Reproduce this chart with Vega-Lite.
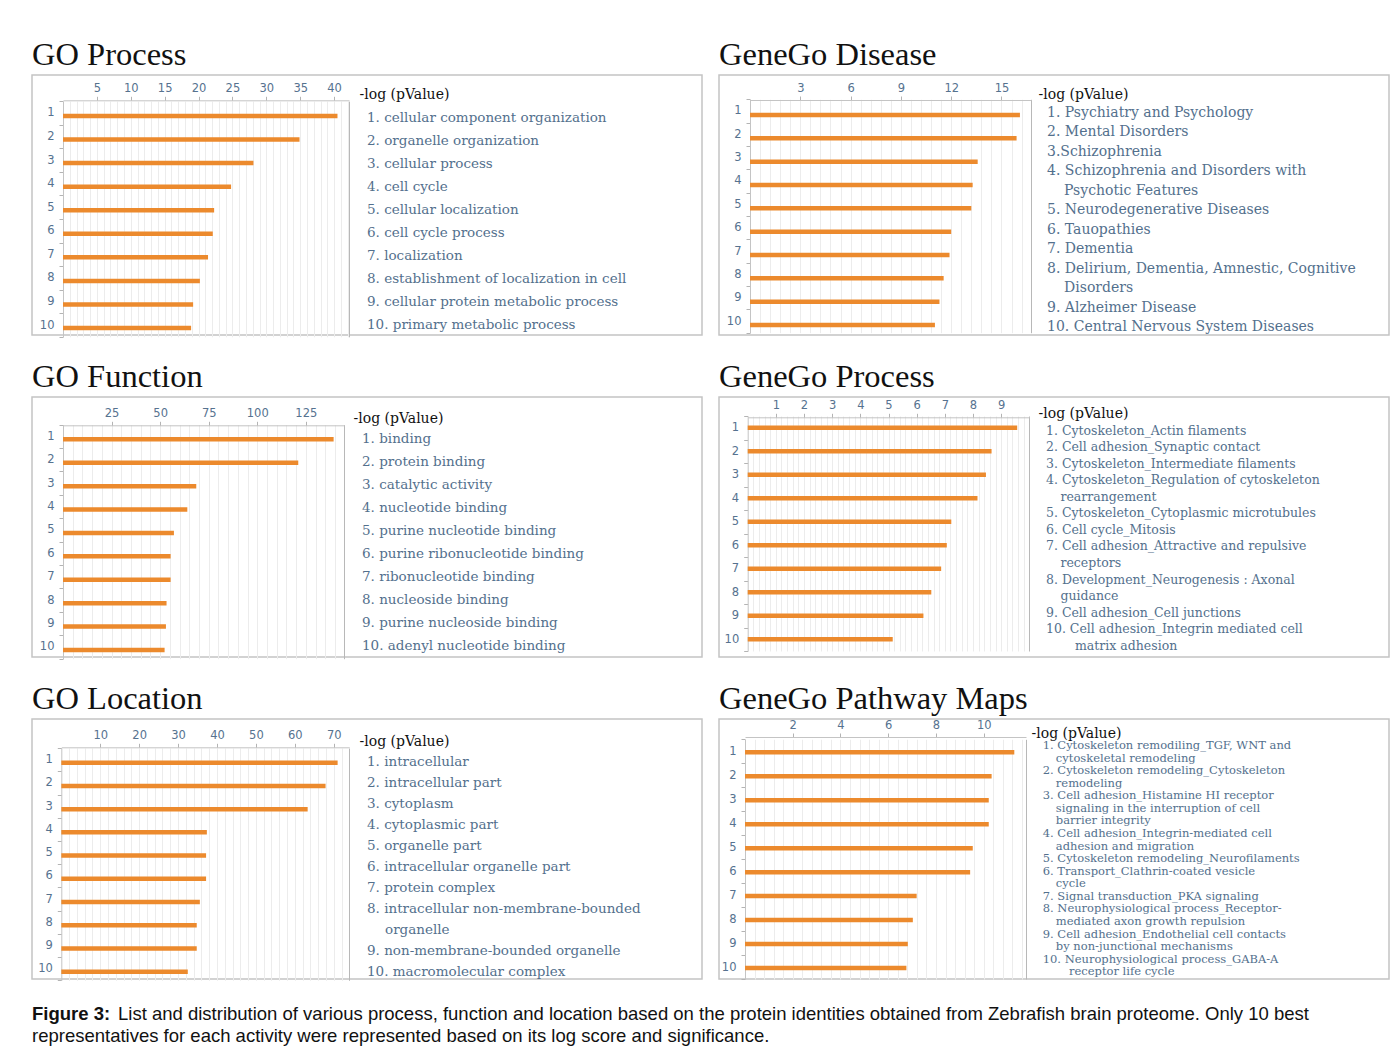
{
  "$schema": "https://vega.github.io/schema/vega-lite/v6.json",
  "background": "white",
  "padding": {"left": 31, "top": 37, "right": 5, "bottom": 5},
  "spacing": 21,
  "datasets": {
    "b1": [{"item":1,"value":40.5},{"item":2,"value":34.9},{"item":3,"value":28.1},{"item":4,"value":24.8},{"item":5,"value":22.3},{"item":6,"value":22.1},{"item":7,"value":21.4},{"item":8,"value":20.2},{"item":9,"value":19.2},{"item":10,"value":18.9}],
    "b2": [{"item":1,"value":16.1},{"item":2,"value":15.9},{"item":3,"value":13.58},{"item":4,"value":13.28},{"item":5,"value":13.2},{"item":6,"value":12.0},{"item":7,"value":11.9},{"item":8,"value":11.55},{"item":9,"value":11.3},{"item":10,"value":11.03}],
    "b3": [{"item":1,"value":139.3},{"item":2,"value":121.1},{"item":3,"value":68.6},{"item":4,"value":64.0},{"item":5,"value":57.1},{"item":6,"value":55.4},{"item":7,"value":55.4},{"item":8,"value":53.3},{"item":9,"value":53.0},{"item":10,"value":52.3}],
    "b4": [{"item":1,"value":9.57},{"item":2,"value":8.66},{"item":3,"value":8.46},{"item":4,"value":8.16},{"item":5,"value":7.23},{"item":6,"value":7.07},{"item":7,"value":6.87},{"item":8,"value":6.52},{"item":9,"value":6.24},{"item":10,"value":5.15}],
    "b5": [{"item":1,"value":71.0},{"item":2,"value":67.9},{"item":3,"value":63.3},{"item":4,"value":37.4},{"item":5,"value":37.2},{"item":6,"value":37.2},{"item":7,"value":35.6},{"item":8,"value":34.8},{"item":9,"value":34.8},{"item":10,"value":32.5}],
    "b6": [{"item":1,"value":11.28},{"item":2,"value":10.33},{"item":3,"value":10.21},{"item":4,"value":10.21},{"item":5,"value":9.54},{"item":6,"value":9.43},{"item":7,"value":7.19},{"item":8,"value":7.03},{"item":9,"value":6.82},{"item":10,"value":6.76}],
    "l1": [{"line":"1. cellular component organization","lvl":"item"},{"line":"2. organelle organization","lvl":"item"},{"line":"3. cellular process","lvl":"item"},{"line":"4. cell cycle","lvl":"item"},{"line":"5. cellular localization","lvl":"item"},{"line":"6. cell cycle process","lvl":"item"},{"line":"7. localization","lvl":"item"},{"line":"8. establishment of localization in cell","lvl":"item"},{"line":"9. cellular protein metabolic process","lvl":"item"},{"line":"10. primary metabolic process","lvl":"item"}],
    "l2": [{"line":"1. Psychiatry and Psychology","lvl":"item"},{"line":"2. Mental Disorders","lvl":"item"},{"line":"3.Schizophrenia","lvl":"item"},{"line":"4. Schizophrenia and Disorders with","lvl":"item"},{"line":"Psychotic Features","lvl":"cont"},{"line":"5. Neurodegenerative Diseases","lvl":"item"},{"line":"6. Tauopathies","lvl":"item"},{"line":"7. Dementia","lvl":"item"},{"line":"8. Delirium, Dementia, Amnestic, Cognitive","lvl":"item"},{"line":"Disorders","lvl":"cont"},{"line":"9. Alzheimer Disease","lvl":"item"},{"line":"10. Central Nervous System Diseases","lvl":"item"}],
    "l3": [{"line":"1. binding","lvl":"item"},{"line":"2. protein binding","lvl":"item"},{"line":"3. catalytic activity","lvl":"item"},{"line":"4. nucleotide binding","lvl":"item"},{"line":"5. purine nucleotide binding","lvl":"item"},{"line":"6. purine ribonucleotide binding","lvl":"item"},{"line":"7. ribonucleotide binding","lvl":"item"},{"line":"8. nucleoside binding","lvl":"item"},{"line":"9. purine nucleoside binding","lvl":"item"},{"line":"10. adenyl nucleotide binding","lvl":"item"}],
    "l4": [{"line":"1. Cytoskeleton_Actin filaments","lvl":"item"},{"line":"2. Cell adhesion_Synaptic contact","lvl":"item"},{"line":"3. Cytoskeleton_Intermediate filaments","lvl":"item"},{"line":"4. Cytoskeleton_Regulation of cytoskeleton","lvl":"item"},{"line":"rearrangement","lvl":"cont"},{"line":"5. Cytoskeleton_Cytoplasmic microtubules","lvl":"item"},{"line":"6. Cell cycle_Mitosis","lvl":"item"},{"line":"7. Cell adhesion_Attractive and repulsive","lvl":"item"},{"line":"receptors","lvl":"cont"},{"line":"8. Development_Neurogenesis : Axonal","lvl":"item"},{"line":"guidance","lvl":"cont"},{"line":"9. Cell adhesion_Cell junctions","lvl":"item"},{"line":"10. Cell adhesion_Integrin mediated cell","lvl":"item"},{"line":"matrix adhesion","lvl":"cont2"}],
    "l5": [{"line":"1. intracellular","lvl":"item"},{"line":"2. intracellular part","lvl":"item"},{"line":"3. cytoplasm","lvl":"item"},{"line":"4. cytoplasmic part","lvl":"item"},{"line":"5. organelle part","lvl":"item"},{"line":"6. intracellular organelle part","lvl":"item"},{"line":"7. protein complex","lvl":"item"},{"line":"8. intracellular non-membrane-bounded","lvl":"item"},{"line":"organelle","lvl":"cont"},{"line":"9. non-membrane-bounded organelle","lvl":"item"},{"line":"10. macromolecular complex","lvl":"item"}],
    "l6": [{"line":"1. Cytoskeleton remodiling_TGF, WNT and","lvl":"item"},{"line":"cytoskeletal remodeling","lvl":"cont"},{"line":"2. Cytoskeleton remodeling_Cytoskeleton","lvl":"item"},{"line":"remodeling","lvl":"cont"},{"line":"3. Cell adhesion_Histamine HI receptor","lvl":"item"},{"line":"signaling in the interruption of cell","lvl":"cont"},{"line":"barrier integrity","lvl":"cont"},{"line":"4. Cell adhesion_Integrin-mediated cell","lvl":"item"},{"line":"adhesion and migration","lvl":"cont"},{"line":"5. Cytoskeleton remodeling_Neurofilaments","lvl":"item"},{"line":"6. Transport_Clathrin-coated vesicle","lvl":"item"},{"line":"cycle","lvl":"cont"},{"line":"7. Signal transduction_PKA signaling","lvl":"item"},{"line":"8. Neurophysiological process_Receptor-","lvl":"item"},{"line":"mediated axon growth repulsion","lvl":"cont"},{"line":"9. Cell adhesion_Endothelial cell contacts","lvl":"item"},{"line":"by non-junctional mechanisms","lvl":"cont"},{"line":"10. Neurophysiological process_GABA-A","lvl":"item"},{"line":"receptor life cycle","lvl":"cont2"}]
  },
  "vconcat": [
    {
      "columns": 2,
      "bounds": "flush",
      "spacing": {"row": 62, "column": 17},
      "concat": [
        {
          "width": 670, "height": 260,
          "title": "GO Process",
          "layer": [
            {
              "data": {"name": "b1"},
              "mark": {"type": "bar", "height": 4.5, "color": "#ec8a2d", "yOffset": 3},
              "encoding": {
                "x": {"field": "value", "type": "quantitative",
                  "scale": {"domain": [0, 42.2], "range": [31, 317], "nice": false, "zero": true},
                  "axis": {"orient": "top", "offset": -25.3,
                    "values": [1,2,3,4,5,6,7,8,9,10,11,12,13,14,15,16,17,18,19,20,21,22,23,24,25,26,27,28,29,30,31,32,33,34,35,36,37,38,39,40,41,42,42.2],
                    "labelExpr": "datum.value % 5 === 0 ? format(datum.value, 'd') : ''",
                    "tickOpacity": {"condition": {"test": "datum.value % 5 === 0", "value": 1}, "value": 0},
                    "gridColor": {"condition": {"test": "datum.value > 42.1", "value": "#b8b8b8"}, "value": "#ececec"},
                    "title": "-log (pValue)", "titleX": 327, "titleY": -6.3}
                },
                "y": {"field": "item", "type": "ordinal",
                  "scale": {"type": "band", "range": [26.2, 261.8], "paddingInner": 0, "paddingOuter": 0},
                  "axis": {"orient": "left", "offset": -31}}
              }
            },
            {
              "data": {"name": "l1"},
              "mark": {"type": "text", "align": "left", "baseline": "middle", "fontSize": 13.5},
              "encoding": {
                "x": {"field": "lvl", "type": "nominal", "scale": {"type": "point", "domain": ["item", "cont"], "range": [335, 352], "padding": 0}, "axis": null},
                "y": {"field": "line", "type": "nominal", "sort": null, "scale": {"type": "point", "range": [43, 250], "padding": 0}, "axis": null},
                "text": {"field": "line"}
              }
            }
          ],
          "resolve": {"scale": {"x": "independent", "y": "independent"}, "axis": {"x": "independent", "y": "independent"}}
        },
        {
          "width": 670, "height": 260,
          "title": "GeneGo Disease",
          "layer": [
            {
              "data": {"name": "b2"},
              "mark": {"type": "bar", "height": 4.5, "color": "#ec8a2d", "yOffset": 4},
              "encoding": {
                "x": {"field": "value", "type": "quantitative",
                  "scale": {"domain": [0, 16.76], "range": [31, 312], "nice": false, "zero": true},
                  "axis": {"orient": "top", "offset": -25,
                    "values": [0.6,1.2,1.8,2.4,3,3.6,4.2,4.8,5.4,6,6.6,7.2,7.8,8.4,9,9.6,10.2,10.8,11.4,12,12.6,13.2,13.8,14.4,15,15.6,16.2,16.76],
                    "labelExpr": "datum.value % 3 === 0 ? format(datum.value, 'd') : ''",
                    "tickOpacity": {"condition": {"test": "datum.value % 3 === 0", "value": 1}, "value": 0},
                    "gridColor": {"condition": {"test": "datum.value > 16.5", "value": "#b8b8b8"}, "value": "#ececec"},
                    "title": "-log (pValue)", "titleX": 319, "titleY": -5.3}
                },
                "y": {"field": "item", "type": "ordinal",
                  "scale": {"type": "band", "range": [24.3, 257.7], "paddingInner": 0, "paddingOuter": 0},
                  "axis": {"orient": "left", "offset": -31}}
              }
            },
            {
              "data": {"name": "l2"},
              "mark": {"type": "text", "align": "left", "baseline": "middle", "fontSize": 14},
              "encoding": {
                "x": {"field": "lvl", "type": "nominal", "scale": {"type": "point", "domain": ["item", "cont"], "range": [328, 345], "padding": 0}, "axis": null},
                "y": {"field": "line", "type": "nominal", "sort": null, "scale": {"type": "point", "range": [38, 252.3], "padding": 0}, "axis": null},
                "text": {"field": "line"}
              }
            }
          ],
          "resolve": {"scale": {"x": "independent", "y": "independent"}, "axis": {"x": "independent", "y": "independent"}}
        },
        {
          "width": 670, "height": 260,
          "title": "GO Function",
          "layer": [
            {
              "data": {"name": "b3"},
              "mark": {"type": "bar", "height": 4.5, "color": "#ec8a2d", "yOffset": 3},
              "encoding": {
                "x": {"field": "value", "type": "quantitative",
                  "scale": {"domain": [0, 144.8], "range": [31, 312.3], "nice": false, "zero": true},
                  "axis": {"orient": "top", "offset": -28.3,
                    "values": [5,10,15,20,25,30,35,40,45,50,55,60,65,70,75,80,85,90,95,100,105,110,115,120,125,130,135,140,144.8],
                    "labelExpr": "datum.value % 25 === 0 ? format(datum.value, 'd') : ''",
                    "tickOpacity": {"condition": {"test": "datum.value % 25 === 0", "value": 1}, "value": 0},
                    "gridColor": {"condition": {"test": "datum.value > 142", "value": "#b8b8b8"}, "value": "#ececec"},
                    "title": "-log (pValue)", "titleX": 321, "titleY": -7.3}
                },
                "y": {"field": "item", "type": "ordinal",
                  "scale": {"type": "band", "range": [27.6, 261.7], "paddingInner": 0, "paddingOuter": 0},
                  "axis": {"orient": "left", "offset": -31}}
              }
            },
            {
              "data": {"name": "l3"},
              "mark": {"type": "text", "align": "left", "baseline": "middle", "fontSize": 13.5},
              "encoding": {
                "x": {"field": "lvl", "type": "nominal", "scale": {"type": "point", "domain": ["item", "cont"], "range": [330, 347], "padding": 0}, "axis": null},
                "y": {"field": "line", "type": "nominal", "sort": null, "scale": {"type": "point", "range": [42, 249], "padding": 0}, "axis": null},
                "text": {"field": "line"}
              }
            }
          ],
          "resolve": {"scale": {"x": "independent", "y": "independent"}, "axis": {"x": "independent", "y": "independent"}}
        },
        {
          "width": 670, "height": 260,
          "title": "GeneGo Process",
          "layer": [
            {
              "data": {"name": "b4"},
              "mark": {"type": "bar", "height": 4.5, "color": "#ec8a2d", "yOffset": 0},
              "encoding": {
                "x": {"field": "value", "type": "quantitative",
                  "scale": {"domain": [0, 10], "range": [28.7, 310.3], "nice": false, "zero": true},
                  "axis": {"orient": "top", "offset": -20.3,
                    "values": [0.2,0.4,0.6,0.8,1,1.2,1.4,1.6,1.8,2,2.2,2.4,2.6,2.8,3,3.2,3.4,3.6,3.8,4,4.2,4.4,4.6,4.8,5,5.2,5.4,5.6,5.8,6,6.2,6.4,6.6,6.8,7,7.2,7.4,7.6,7.8,8,8.2,8.4,8.6,8.8,9,9.2,9.4,9.6,9.8,10],
                    "labelExpr": "datum.value % 1 === 0 && datum.value < 10 ? format(datum.value, 'd') : ''",
                    "tickOpacity": {"condition": {"test": "datum.value % 1 === 0 && datum.value < 10", "value": 1}, "value": 0},
                    "gridColor": {"condition": {"test": "datum.value > 9.9", "value": "#b8b8b8"}, "value": "#ececec"},
                    "title": "-log (pValue)", "titleX": 319, "titleY": -4.3}
                },
                "y": {"field": "item", "type": "ordinal",
                  "scale": {"type": "band", "range": [19, 254], "paddingInner": 0, "paddingOuter": 0},
                  "axis": {"orient": "left", "offset": -28.7}}
              }
            },
            {
              "data": {"name": "l4"},
              "mark": {"type": "text", "align": "left", "baseline": "middle", "fontSize": 12.5},
              "encoding": {
                "x": {"field": "lvl", "type": "nominal", "scale": {"type": "point", "domain": ["item", "cont", "cont2"], "range": [327, 356], "padding": 0}, "axis": null},
                "y": {"field": "line", "type": "nominal", "sort": null, "scale": {"type": "point", "range": [33.7, 248.7], "padding": 0}, "axis": null},
                "text": {"field": "line"}
              }
            }
          ],
          "resolve": {"scale": {"x": "independent", "y": "independent"}, "axis": {"x": "independent", "y": "independent"}}
        },
        {
          "width": 670, "height": 260,
          "title": "GO Location",
          "layer": [
            {
              "data": {"name": "b5"},
              "mark": {"type": "bar", "height": 4.5, "color": "#ec8a2d", "yOffset": 3},
              "encoding": {
                "x": {"field": "value", "type": "quantitative",
                  "scale": {"domain": [0, 74], "range": [29.3, 317.3], "nice": false, "zero": true},
                  "axis": {"orient": "top", "offset": -28.3,
                    "values": [2,4,6,8,10,12,14,16,18,20,22,24,26,28,30,32,34,36,38,40,42,44,46,48,50,52,54,56,58,60,62,64,66,68,70,72,74],
                    "labelExpr": "datum.value % 10 === 0 ? format(datum.value, 'd') : ''",
                    "tickOpacity": {"condition": {"test": "datum.value % 10 === 0", "value": 1}, "value": 0},
                    "gridColor": {"condition": {"test": "datum.value > 73", "value": "#b8b8b8"}, "value": "#ececec"},
                    "title": "-log (pValue)", "titleX": 327, "titleY": -6.3}
                },
                "y": {"field": "item", "type": "ordinal",
                  "scale": {"type": "band", "range": [29.1, 261.3], "paddingInner": 0, "paddingOuter": 0},
                  "axis": {"orient": "left", "offset": -29.3}}
              }
            },
            {
              "data": {"name": "l5"},
              "mark": {"type": "text", "align": "left", "baseline": "middle", "fontSize": 13.5},
              "encoding": {
                "x": {"field": "lvl", "type": "nominal", "scale": {"type": "point", "domain": ["item", "cont"], "range": [335, 353], "padding": 0}, "axis": null},
                "y": {"field": "line", "type": "nominal", "sort": null, "scale": {"type": "point", "range": [43, 253], "padding": 0}, "axis": null},
                "text": {"field": "line"}
              }
            }
          ],
          "resolve": {"scale": {"x": "independent", "y": "independent"}, "axis": {"x": "independent", "y": "independent"}}
        },
        {
          "width": 670, "height": 260,
          "title": "GeneGo Pathway Maps",
          "layer": [
            {
              "data": {"name": "b6"},
              "mark": {"type": "bar", "height": 4.5, "color": "#ec8a2d", "yOffset": 1},
              "encoding": {
                "x": {"field": "value", "type": "quantitative",
                  "scale": {"domain": [0, 11.77], "range": [26, 307], "nice": false, "zero": true},
                  "axis": {"orient": "top", "offset": -18,
                    "values": [0.4,0.8,1.2,1.6,2,2.4,2.8,3.2,3.6,4,4.4,4.8,5.2,5.6,6,6.4,6.8,7.2,7.6,8,8.4,8.8,9.2,9.6,10,10.4,10.8,11.2,11.6,11.77],
                    "labelExpr": "datum.value % 2 === 0 ? format(datum.value, 'd') : ''",
                    "tickOpacity": {"condition": {"test": "datum.value % 2 === 0", "value": 1}, "value": 0},
                    "gridColor": {"condition": {"test": "datum.value > 11.7", "value": "#b8b8b8"}, "value": "#ececec"},
                    "title": "-log (pValue)", "titleX": 312, "titleY": -4}
                },
                "y": {"field": "item", "type": "ordinal",
                  "scale": {"type": "band", "range": [20.3, 260], "paddingInner": 0, "paddingOuter": 0},
                  "axis": {"orient": "left", "offset": -26}}
              }
            },
            {
              "data": {"name": "l6"},
              "mark": {"type": "text", "align": "left", "baseline": "middle", "fontSize": 11.5},
              "encoding": {
                "x": {"field": "lvl", "type": "nominal", "scale": {"type": "point", "domain": ["item", "cont", "cont2"], "range": [323.7, 350], "padding": 0}, "axis": null},
                "y": {"field": "line", "type": "nominal", "sort": null, "scale": {"type": "point", "range": [27, 253.3], "padding": 0}, "axis": null},
                "text": {"field": "line"}
              }
            }
          ],
          "resolve": {"scale": {"x": "independent", "y": "independent"}, "axis": {"x": "independent", "y": "independent"}}
        }
      ]
    },
    {
      "width": 1360, "height": 44,
      "view": {"stroke": null},
      "layer": [
        {
          "data": {"values": [{"line": 1, "text": "Figure 3:"}]},
          "mark": {"type": "text", "align": "left", "baseline": "middle", "font": "Liberation Sans", "fontSize": 18.5, "fontWeight": "bold", "color": "#111"},
          "encoding": {
            "x": {"datum": 0, "type": "quantitative", "scale": {"domain": [0, 1]}, "axis": null},
            "y": {"field": "line", "type": "ordinal", "scale": {"domain": [1, 2]}, "axis": null},
            "text": {"field": "text"}
          }
        },
        {
          "data": {"values": [{"line": 1, "text": "List and distribution of various process, function and location based on the protein identities obtained from Zebrafish brain proteome. Only 10 best"}]},
          "mark": {"type": "text", "align": "left", "baseline": "middle", "font": "Liberation Sans", "fontSize": 18.5, "color": "#111", "dx": 86},
          "encoding": {
            "x": {"datum": 0, "type": "quantitative", "axis": null},
            "y": {"field": "line", "type": "ordinal", "axis": null},
            "text": {"field": "text"}
          }
        },
        {
          "data": {"values": [{"line": 2, "text": "representatives for each activity were represented based on its log score and significance."}]},
          "mark": {"type": "text", "align": "left", "baseline": "middle", "font": "Liberation Sans", "fontSize": 18.5, "color": "#111"},
          "encoding": {
            "x": {"datum": 0, "type": "quantitative", "axis": null},
            "y": {"field": "line", "type": "ordinal", "axis": null},
            "text": {"field": "text"}
          }
        }
      ]
    }
  ],
  "config": {
    "view": {"stroke": "#c4c4c4", "strokeWidth": 1.5},
    "title": {"anchor": "start", "frame": "group", "offset": -2, "baseline": "alphabetic", "font": "Liberation Serif", "fontSize": 32.5, "fontWeight": "normal", "color": "#111"},
    "text": {"font": "DejaVu Serif", "color": "#53708d"},
    "axis": {
      "labelFont": "DejaVu Sans", "labelFontSize": 11.5, "labelColor": "#56728f",
      "domainColor": "#c4c4c4", "tickColor": "#b4b4b4", "tickSize": 4,
      "gridColor": "#ececec", "gridWidth": 1,
      "titleFont": "DejaVu Serif", "titleFontSize": 14, "titleFontWeight": "normal", "titleColor": "#111",
      "titleAlign": "left", "titleBaseline": "middle", "titleAngle": 0,
      "labelOverlap": false, "labelFlush": false
    },
    "axisX": {"grid": true, "labelPadding": 2.5},
    "axisY": {"grid": false, "title": null, "tickBand": "extent", "labelPadding": 5, "labelAngle": 0}
  }
}
